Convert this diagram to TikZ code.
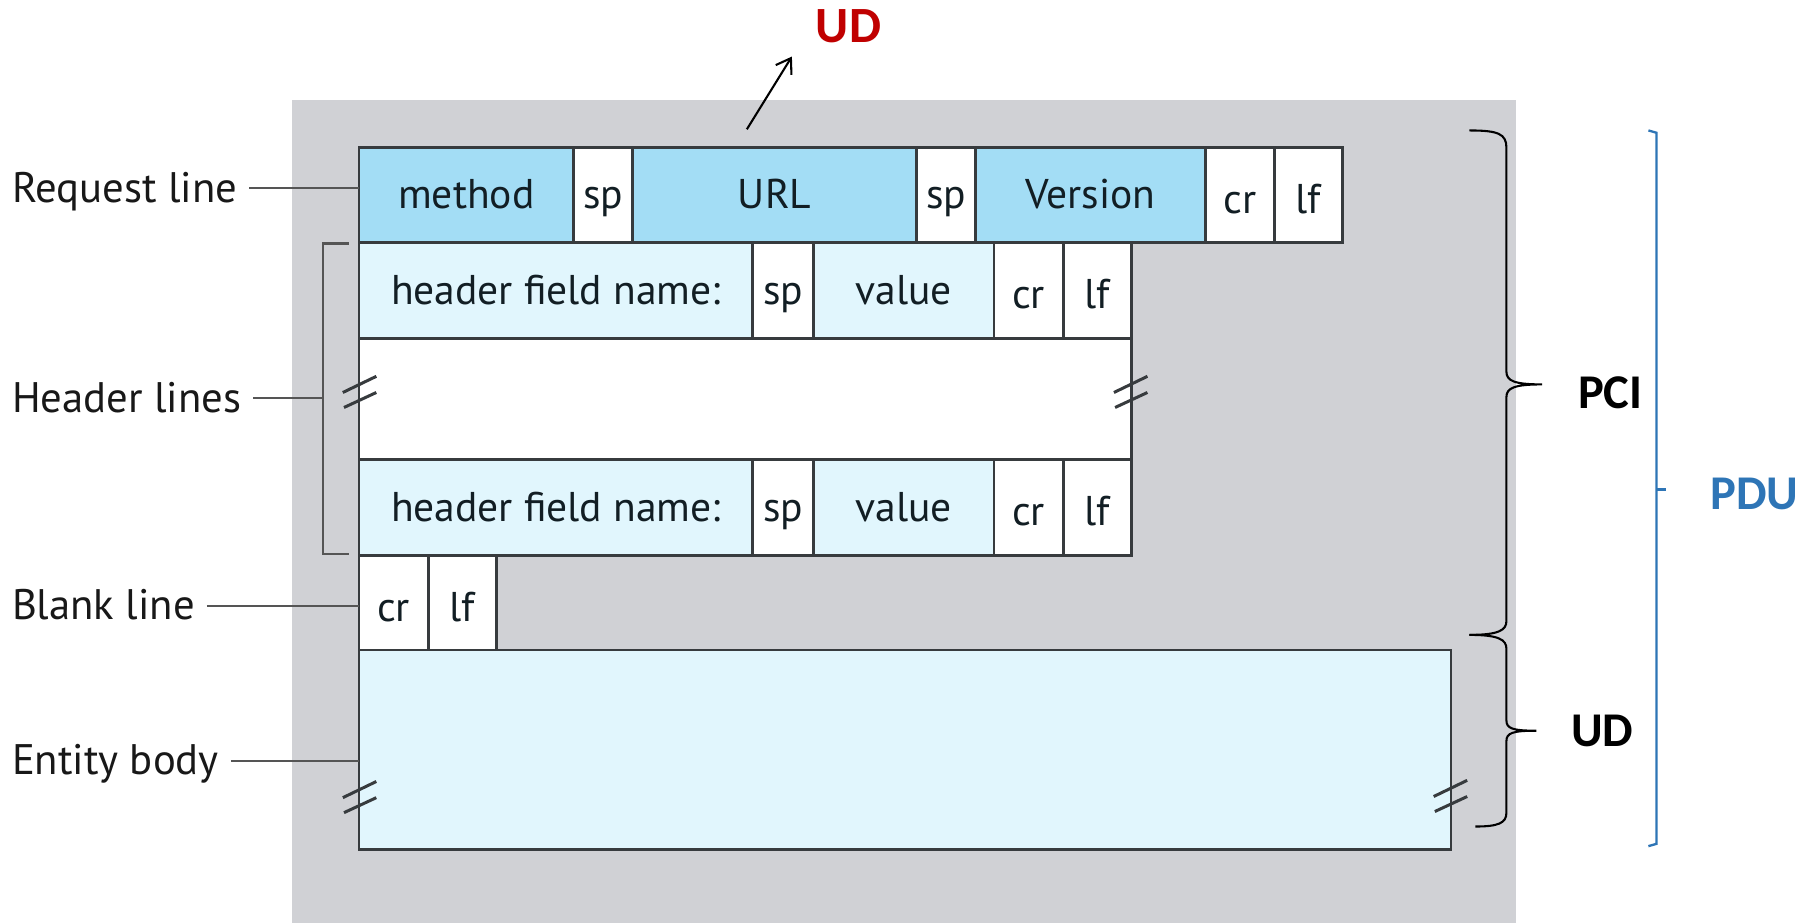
\documentclass[tikz,border=0pt]{standalone}
\usepackage{fontspec}
\setmainfont{PT Sans}
\newfontfamily\calfont{Carlito}
\usetikzlibrary{arrows.meta,calc}
\definecolor{bggray}{RGB}{208,209,213}
\definecolor{cellblue}{RGB}{163,221,245}
\definecolor{celllight}{RGB}{225,246,253}
\definecolor{edgegray}{RGB}{55,59,62}
\definecolor{celltext}{RGB}{18,30,36}
\definecolor{lbltext}{RGB}{24,24,24}
\definecolor{udred}{RGB}{192,0,0}
\definecolor{pdublue}{RGB}{46,117,182}
\definecolor{leadgray}{RGB}{85,85,85}
\newcommand\mkcell[7]{%
  \node[cellbox,#6,minimum width={(#4-#2)*0.5pt},minimum height={(#5-#3)*0.5pt}] (#1) at ({(#2+#4)/2},{(#3+#5)/2}) {#7};}
\newcommand\mkbrk[2]{%
  \draw[brk] ({#1-14},{#2+1}) -- ({#1+15},{#2-13});
  \draw[brk] ({#1-13},{#2+14}) -- ({#1+15},{#2+1});}
\begin{document}
\begin{tikzpicture}[x=0.5pt,y=-0.5pt,
  cellbox/.style={draw=edgegray,line width=1.2pt,inner sep=0pt,outer sep=0pt,text=celltext,font=\fontsize{18}{22}\selectfont,text height=13pt,text depth=1pt},
  darkcell/.style={fill=cellblue},
  lightcell/.style={fill=celllight},
  whitecell/.style={fill=white},
  crlf/.style={fill=white,text height=16pt,text depth=0pt},
  lbl/.style={inner xsep=5pt,inner ysep=0pt,text=lbltext,font=\fontsize{18.5}{22}\selectfont,text height=13pt,text depth=1pt},
  lead/.style={draw=leadgray,line width=1pt},
  brk/.style={draw=edgegray,line width=1.3pt},
  bracepath/.style={draw=black,line width=0.9pt},
  tag/.style={font=\calfont\bfseries\fontsize{21}{25}\selectfont,inner sep=0pt}]
\useasboundingbox (0,0) rectangle (1568,800);
\fill[white] (0,0) rectangle (1568,800);
\fill[bggray] (253,87) rectangle (1313,800);
% request line
\mkcell{method}{311}{128}{497}{210}{darkcell}{method}
\mkcell{rsp1}{497}{128}{548}{210}{whitecell}{sp}
\mkcell{url}{548}{128}{794}{210}{darkcell}{URL}
\mkcell{rsp2}{794}{128}{845}{210}{whitecell}{sp}
\mkcell{version}{845}{128}{1044}{210}{darkcell}{Version}
\mkcell{rcr}{1044}{128}{1104}{210}{crlf}{cr}
\mkcell{rlf}{1104}{128}{1163}{210}{crlf}{lf}
% white gap between header lines
\mkcell{gap}{311}{293}{980}{398}{whitecell}{}
% header line 1
\mkcell{hfa}{311}{210}{652}{293}{lightcell}{header field name:}
\mkcell{hspa}{652}{210}{705}{293}{whitecell}{sp}
\mkcell{hva}{705}{210}{861}{293}{lightcell}{value}
\mkcell{hcra}{861}{210}{921}{293}{crlf}{cr}
\mkcell{hlfa}{921}{210}{980}{293}{crlf}{lf}
% header line 2
\mkcell{hfb}{311}{398}{652}{481}{lightcell}{header field name:}
\mkcell{hspb}{652}{398}{705}{481}{whitecell}{sp}
\mkcell{hvb}{705}{398}{861}{481}{lightcell}{value}
\mkcell{hcrb}{861}{398}{921}{481}{crlf}{cr}
\mkcell{hlfb}{921}{398}{980}{481}{crlf}{lf}
% blank line
\mkcell{bcr}{311}{481}{371}{563}{crlf}{cr}
\mkcell{blf}{371}{481}{430}{563}{crlf}{lf}
% entity body
\mkcell{entity}{311}{563}{1257}{736}{lightcell}{}
% break marks
\mkbrk{311}{339}
\mkbrk{979}{339}
\mkbrk{311}{690}
\mkbrk{1256}{689}
% labels
\node[lbl,anchor=west] (reqlbl) at (0,163) {Request line};
\node[lbl,anchor=west] (hdrlbl) at (0,345) {Header lines};
\node[lbl,anchor=west] (blklbl) at (0,525) {Blank line};
\node[lbl,anchor=west] (entlbl) at (0,659) {Entity body};
\coordinate (hbrtop) at (280,211);
\coordinate (hbrbot) at (280,480);
\draw[lead] (302,211) -- (hbrtop) -- (hbrbot) -- (302,480);
\draw[lead] (reqlbl.east) -- (reqlbl.east -| method.west);
\draw[lead] (hdrlbl.east) -- (hdrlbl.east -| hbrtop);
\draw[lead] (blklbl.east) -- (blklbl.east -| bcr.west);
\draw[lead] (entlbl.east) -- (entlbl.east -| entity.west);
% UD arrow on top
\node[tag,text=udred,font=\calfont\bfseries\fontsize{22}{26}\selectfont] (udtop) at (735,23) {UD};
\coordinate (arrstart) at (647,112);
\coordinate (arrend) at (686,49);
\draw[line width=0.9pt,-{Straight Barb[length=6pt,width=8pt]}] (arrstart) -- (arrend);
% braces
\draw[bracepath] (1273,113) .. controls (1298,113) and (1305,116) .. (1305,128)
  -- (1305,322) .. controls (1305,330) and (1312,333) .. (1336,333)
  .. controls (1312,333) and (1305,336) .. (1305,344)
  -- (1305,538) .. controls (1305,546) and (1298,550) .. (1273,550);
\draw[bracepath] (1273,550) .. controls (1298,550) and (1305,554) .. (1305,562)
  -- (1305,624) .. controls (1305,631) and (1310,633) .. (1331,633)
  .. controls (1310,633) and (1305,635) .. (1305,642)
  -- (1305,704) .. controls (1305,713) and (1298,716) .. (1278,716);
\node[tag] (pci) at (1395,340) {PCI};
\node[tag] (udr) at (1388,633) {UD};
% PDU bracket
\draw[draw=pdublue,line width=1pt] (1428,113) -- (1435,115) -- (1435,731) -- (1428,733);
\draw[draw=pdublue,line width=1pt] (1435,424) -- (1443,424);
\node[tag,text=pdublue] (pdu) at (1520,428) {PDU};
\end{tikzpicture}
\end{document}
